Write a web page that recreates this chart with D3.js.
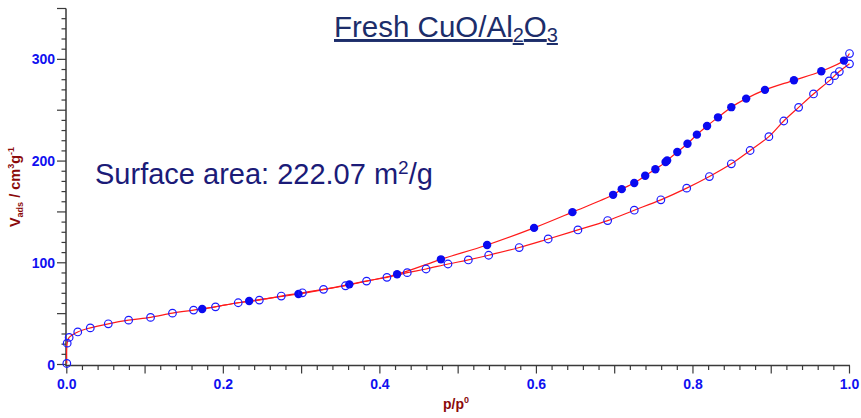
<!DOCTYPE html>
<html>
<head>
<meta charset="utf-8">
<script src="https://cdn.jsdelivr.net/npm/d3@7/dist/d3.min.js"></script>
<style>
  html, body { margin: 0; padding: 0; background: #fff; }
  svg { display: block; font-family: "Liberation Sans", Arial, sans-serif; }
</style>
</head>
<body>
<svg id="chart" width="861" height="418"></svg>
<script>
// N2 isotherm, relative pressure p/p0 vs adsorbed volume (cm3/g)
const adsP = [0.0, 0.0005, 0.003, 0.014, 0.030, 0.053, 0.079, 0.107, 0.135, 0.162, 0.190, 0.219,
  0.246, 0.274, 0.301, 0.328, 0.356, 0.383, 0.409, 0.435, 0.459, 0.487, 0.513, 0.539, 0.578,
  0.615, 0.653, 0.691, 0.725, 0.759, 0.792, 0.821, 0.849, 0.873, 0.897, 0.916, 0.935, 0.954,
  0.974, 0.981, 0.987, 1.0, 1.0];
const adsV = [1, 21, 26.6, 32, 36, 40, 43.6, 46.3, 50.5, 53.5, 56.7, 60.7,
  63.3, 67.3, 70.5, 73.9, 77.4, 82, 85.7, 90.3, 93.9, 98.8, 102.8, 107.4, 115,
  123.4, 132.3, 141.5, 151.7, 161.9, 173.4, 184.8, 197.3, 210.4, 224, 239.4, 252.8, 266,
  278.8, 284, 288, 295.6, 305.7];

const desP = [0.993, 0.964, 0.929, 0.892, 0.868, 0.849, 0.832, 0.818, 0.805, 0.793, 0.780,
  0.767, 0.765, 0.752, 0.739, 0.725, 0.709, 0.698, 0.646, 0.597, 0.537, 0.478, 0.422,
  0.361, 0.296, 0.233, 0.173];
const desV = [298.8, 288.3, 279.4, 270, 261.4, 253, 243, 234.5, 226, 217, 208.9,
  200.6, 199, 192, 185.5, 178.5, 172.4, 166.8, 149.8, 134.3, 117.5, 103.4, 88.7,
  78.8, 69.3, 62.4, 54.5];

const xTickLabels = ["0.0", "0.2", "0.4", "0.6", "0.8", "1.0"];
const yTickLabels = ["0", "100", "200", "300"];

const svg = d3.select("#chart");
const x = d3.scaleLinear().domain([0, 1]).range([66.8, 849.5]);
const y = d3.scaleLinear().domain([0, 350]).range([364.5, 8.5]);

const axisColor = "#3a3a3a";
const tickBlue = "#1010f0";
const titleRed = "#8b0a0a";

// ---- axes ----
const ax = svg.append("g").attr("stroke", axisColor).attr("stroke-width", 1.5);
ax.append("line").attr("x1", x(0) - 0.8).attr("x2", x(0) - 0.8)
  .attr("y1", y(350)).attr("y2", y(0) + 1);
ax.append("line").attr("x1", x(0) - 1.5).attr("x2", x(1) + 0.5)
  .attr("y1", y(0) + 1).attr("y2", y(0) + 1);

// x ticks: minor every 0.02, long every 0.1
d3.range(0, 51).forEach(i => {
  const v = i / 50;
  const long = i % 5 === 0;
  ax.append("line").attr("stroke-width", 1.2)
    .attr("x1", x(v)).attr("x2", x(v))
    .attr("y1", y(0) + 1).attr("y2", y(0) + 1 + (long ? 8 : 4.5));
});
// y ticks: minor every 10, long every 50
d3.range(0, 36).forEach(i => {
  const v = i * 10;
  const long = i % 5 === 0;
  ax.append("line").attr("stroke-width", 1.2)
    .attr("x1", x(0) - 0.8).attr("x2", x(0) - 0.8 - (long ? 9 : 4.5))
    .attr("y1", y(v)).attr("y2", y(v));
});

// tick labels
svg.append("g").selectAll("text").data(xTickLabels).join("text")
  .attr("x", d => x(+d)).attr("y", 388.5)
  .attr("text-anchor", "middle")
  .attr("font-size", 14).attr("font-weight", "bold").attr("fill", tickBlue)
  .text(d => d);
svg.append("g").selectAll("text").data(yTickLabels).join("text")
  .attr("x", 55).attr("y", d => y(+d)).attr("dy", "0.36em")
  .attr("text-anchor", "end")
  .attr("font-size", 14).attr("font-weight", "bold").attr("fill", tickBlue)
  .text(d => d);

// axis titles
const xt = svg.append("text").attr("x", 443).attr("y", 409)
  .attr("font-size", 14).attr("font-weight", "bold").attr("fill", titleRed);
xt.append("tspan").text("p/p");
xt.append("tspan").attr("font-size", 9).attr("dy", -6).text("0");

const yt = svg.append("text")
  .attr("transform", "translate(20,187) rotate(-90)")
  .attr("text-anchor", "middle")
  .attr("font-size", 14.5).attr("font-weight", "bold").attr("fill", titleRed);
yt.append("tspan").text("V");
yt.append("tspan").attr("font-size", 9).attr("dy", 3).text("ads");
yt.append("tspan").attr("dy", -3).text(" / cm");
yt.append("tspan").attr("font-size", 9).attr("dy", -6).text("3");
yt.append("tspan").attr("dy", 6).text("g");
yt.append("tspan").attr("font-size", 9).attr("dy", -6).text("-1");

// ---- curves ----
const adsData = adsP.map((p, i) => [p, adsV[i]]);
const desData = desP.map((p, i) => [p, desV[i]]);
const line = d3.line().x(d => x(d[0])).y(d => y(d[1])).curve(d3.curveCatmullRom.alpha(0.5));

svg.append("path").datum(adsData.slice(0, adsData.length - 1))
  .attr("d", line).attr("fill", "none").attr("stroke", "#ff1a1a").attr("stroke-width", 1.2);
svg.append("path").datum([adsData[adsData.length - 1]].concat(desData))
  .attr("d", line).attr("fill", "none").attr("stroke", "#ff1a1a").attr("stroke-width", 1.2);

// ---- markers ----
svg.append("g").selectAll("circle").data(desData).join("circle")
  .attr("cx", d => x(d[0])).attr("cy", d => y(d[1])).attr("r", 4.2)
  .attr("fill", "#0a0af0");
svg.append("g").selectAll("circle").data(adsData).join("circle")
  .attr("cx", d => x(d[0])).attr("cy", d => y(d[1])).attr("r", 3.8)
  .attr("fill", "none").attr("stroke", "#1a1aff").attr("stroke-width", 1.2);

// ---- annotations ----
const title = svg.append("text").attr("x", 334).attr("y", 37)
  .attr("font-size", 29.5).attr("fill", "#1c2d6a")
  .attr("text-decoration", "underline");
title.append("tspan").text("Fresh CuO/Al");
title.append("tspan").attr("font-size", 20).attr("dy", 5).text("2");
title.append("tspan").attr("dy", -5).text("O");
title.append("tspan").attr("font-size", 20).attr("dy", 5).text("3");

const sa = svg.append("text").attr("x", 95).attr("y", 184)
  .attr("font-size", 29).attr("fill", "#1b1b78");
sa.append("tspan").text("Surface area: 222.07 m");
sa.append("tspan").attr("font-size", 19).attr("dy", -10).text("2");
sa.append("tspan").attr("dy", 10).text("/g");
</script>
</body>
</html>
